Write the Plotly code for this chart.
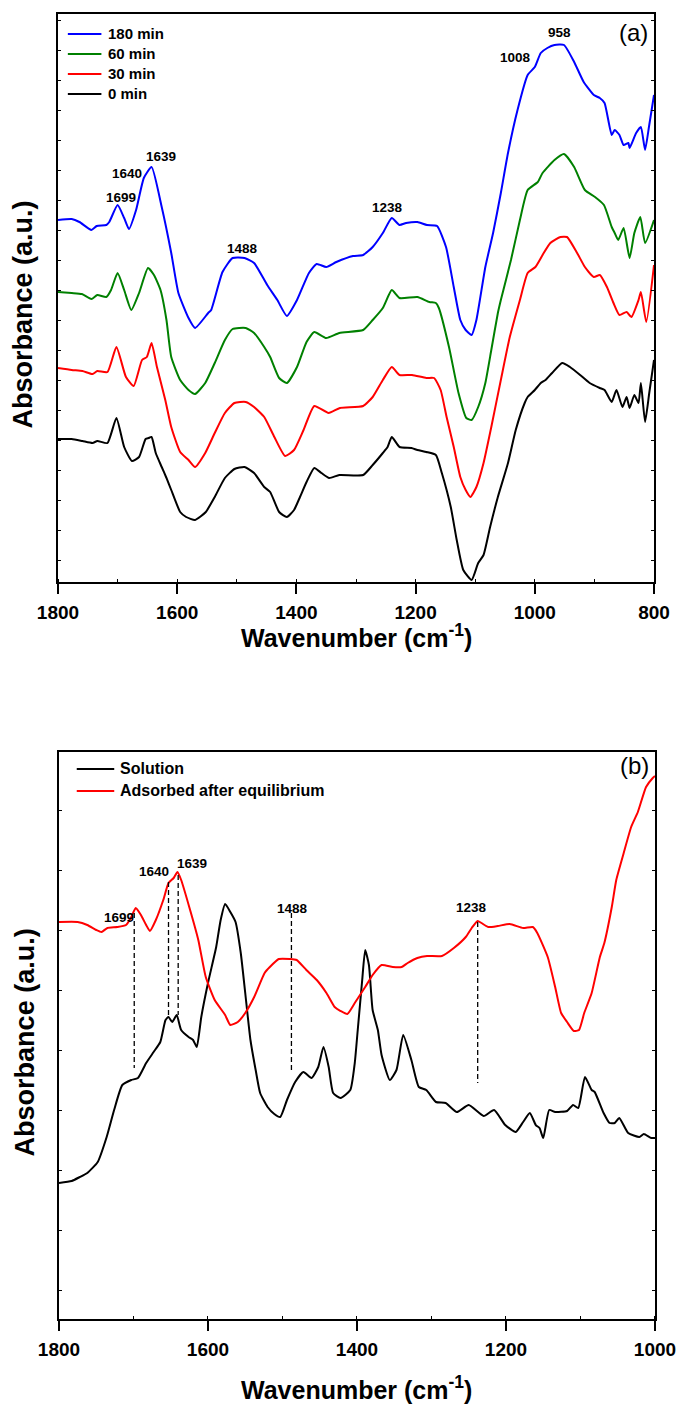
import plotly.graph_objects as go

# ---------------- panel (a): spectra vs. contact time ----------------
wn_180 = [1800, 1777, 1764, 1744, 1735, 1719, 1714, 1700, 1689, 1681, 1669, 1656, 1643, 1626, 1610, 1598,
          1581, 1570, 1548, 1543, 1524, 1507, 1487, 1471, 1449, 1432, 1416, 1399, 1379, 1366, 1350, 1333,
          1305, 1288, 1272, 1255, 1240, 1227, 1216, 1197, 1181, 1164, 1149, 1136, 1125, 1116, 1106, 1098,
          1083, 1070, 1057, 1045, 1029, 1012, 1000, 990, 979, 967, 951, 934, 918, 901, 891, 883, 871, 866,
          858, 851, 843, 841, 830, 822, 815, 808, 800]
abs_180 = [3.62, 3.63, 3.60, 3.52, 3.56, 3.57, 3.60, 3.77, 3.64, 3.53, 3.72, 4.04, 4.15, 3.75, 3.29, 2.89,
           2.64, 2.54, 2.69, 2.72, 3.10, 3.24, 3.24, 3.19, 2.97, 2.82, 2.66, 2.82, 3.09, 3.18, 3.15, 3.20,
           3.26, 3.27, 3.35, 3.49, 3.64, 3.57, 3.59, 3.60, 3.57, 3.56, 3.35, 2.95, 2.62, 2.52, 2.47, 2.62,
           3.15, 3.49, 3.89, 4.29, 4.72, 5.07, 5.15, 5.29, 5.34, 5.37, 5.37, 5.20, 5.00, 4.87, 4.84, 4.79,
           4.47, 4.52, 4.47, 4.37, 4.39, 4.34, 4.49, 4.55, 4.32, 4.57, 4.87]

wn_60 = [1800, 1777, 1760, 1744, 1734, 1719, 1711, 1700, 1689, 1677, 1664, 1649, 1639, 1628, 1618, 1610,
         1595, 1581, 1570, 1553, 1537, 1520, 1507, 1485, 1471, 1454, 1444, 1429, 1416, 1399, 1383, 1370,
         1350, 1328, 1288, 1272, 1255, 1240, 1227, 1197, 1177, 1166, 1161, 1144, 1128, 1115, 1106, 1095,
         1083, 1073, 1062, 1057, 1040, 1025, 1012, 995, 987, 967, 951, 934, 916, 899, 884, 871, 866, 860,
         851, 841, 833, 823, 815, 800]
abs_60 = [2.90, 2.89, 2.88, 2.83, 2.87, 2.85, 2.92, 3.09, 2.92, 2.72, 2.89, 3.14, 3.07, 2.92, 2.62, 2.25,
          2.02, 1.92, 1.88, 1.99, 2.19, 2.42, 2.53, 2.54, 2.49, 2.35, 2.25, 2.04, 1.99, 2.15, 2.40, 2.50,
          2.44, 2.49, 2.52, 2.62, 2.74, 2.92, 2.84, 2.85, 2.80, 2.79, 2.74, 2.35, 1.89, 1.64, 1.62, 1.75,
          1.99, 2.32, 2.69, 2.82, 3.22, 3.62, 3.92, 4.00, 4.09, 4.22, 4.28, 4.15, 3.92, 3.85, 3.77, 3.55,
          3.49, 3.42, 3.54, 3.24, 3.49, 3.65, 3.39, 3.62]

wn_30 = [1800, 1777, 1759, 1742, 1734, 1717, 1702, 1686, 1673, 1659, 1651, 1643, 1634, 1620, 1610, 1595,
         1581, 1570, 1553, 1537, 1520, 1504, 1485, 1471, 1454, 1437, 1419, 1404, 1388, 1370, 1346, 1327,
         1288, 1272, 1255, 1240, 1227, 1206, 1182, 1169, 1158, 1148, 1136, 1125, 1116, 1108, 1098, 1086,
         1073, 1057, 1042, 1025, 1012, 999, 987, 974, 957, 946, 929, 916, 901, 891, 879, 868, 858, 846,
         838, 826, 822, 813, 800]
abs_30 = [2.14, 2.12, 2.11, 2.08, 2.11, 2.10, 2.35, 2.05, 1.96, 2.22, 2.25, 2.39, 2.15, 1.82, 1.55, 1.30,
          1.22, 1.15, 1.29, 1.49, 1.69, 1.79, 1.80, 1.75, 1.65, 1.45, 1.26, 1.32, 1.52, 1.76, 1.69, 1.74,
          1.76, 1.85, 2.02, 2.15, 2.07, 2.07, 2.04, 2.04, 1.92, 1.65, 1.35, 1.05, 0.92, 0.85, 0.95, 1.19,
          1.55, 2.02, 2.45, 2.82, 3.09, 3.15, 3.27, 3.39, 3.45, 3.45, 3.29, 3.15, 3.05, 3.07, 2.95, 2.79,
          2.67, 2.70, 2.65, 2.82, 2.90, 2.60, 3.17]

wn_0 = [1800, 1777, 1759, 1742, 1734, 1717, 1702, 1689, 1676, 1664, 1653, 1648, 1643, 1636, 1626, 1618,
        1610, 1595, 1585, 1570, 1552, 1537, 1520, 1504, 1487, 1471, 1454, 1444, 1429, 1416, 1404, 1394,
        1383, 1370, 1358, 1345, 1328, 1288, 1272, 1255, 1247, 1240, 1227, 1207, 1197, 1182, 1166, 1156,
        1141, 1131, 1120, 1106, 1095, 1086, 1075, 1062, 1045, 1032, 1017, 1012, 1000, 990, 982, 971, 954,
        941, 924, 908, 891, 883, 871, 863, 853, 846, 841, 833, 826, 822, 815, 808, 800]
abs_0 = [1.43, 1.43, 1.41, 1.39, 1.41, 1.39, 1.64, 1.35, 1.21, 1.25, 1.43, 1.44, 1.45, 1.29, 1.15, 1.04,
         0.92, 0.70, 0.65, 0.62, 0.70, 0.85, 1.04, 1.13, 1.15, 1.09, 0.95, 0.90, 0.70, 0.65, 0.72, 0.85,
         1.00, 1.14, 1.09, 1.04, 1.07, 1.07, 1.17, 1.29, 1.35, 1.45, 1.35, 1.34, 1.32, 1.30, 1.27, 1.09,
         0.75, 0.42, 0.12, 0.02, 0.19, 0.27, 0.55, 0.85, 1.19, 1.52, 1.79, 1.85, 1.92, 1.99, 2.02, 2.09,
         2.19, 2.15, 2.07, 1.99, 1.94, 1.92, 1.80, 1.92, 1.75, 1.85, 1.74, 1.87, 1.79, 1.99, 1.60, 1.89,
         2.22]

# peak labels of panel (a)
peak_text_a = ["1699", "1640", "1639", "1488", "1238", "1008", "958"]
peak_x_a = [1694, 1684, 1628, 1490, 1247, 1033, 959]
peak_y_a = [3.85, 4.09, 4.26, 3.34, 3.75, 5.25, 5.50]

# ---------------- panel (b): solution vs. adsorbed ----------------
wn_sol = [1800, 1783, 1772, 1762, 1748, 1736, 1726, 1715, 1703, 1694, 1683, 1673, 1664, 1657, 1653, 1648,
          1642, 1636, 1626, 1620, 1615, 1609, 1600, 1589, 1583, 1577, 1570, 1563, 1556, 1550, 1543, 1536,
          1530, 1520, 1511, 1503, 1494, 1483, 1472, 1461, 1452, 1445, 1438, 1432, 1422, 1409, 1403, 1399,
          1393, 1389, 1384, 1379, 1372, 1367, 1356, 1347, 1338, 1327, 1317, 1307, 1294, 1281, 1266, 1250,
          1230, 1216, 1201, 1187, 1177, 1168, 1160, 1155, 1150, 1142, 1134, 1118, 1110, 1103, 1094, 1085,
          1081, 1069, 1061, 1054, 1048, 1036, 1021, 1015, 1005, 1000]
abs_sol = [1.36, 1.38, 1.42, 1.46, 1.57, 1.82, 2.09, 2.34, 2.39, 2.41, 2.56, 2.67, 2.77, 2.99, 3.02, 2.97,
           3.04, 2.89, 2.82, 2.79, 2.72, 3.02, 3.36, 3.72, 3.99, 4.15, 4.07, 3.97, 3.66, 3.26, 2.79, 2.49,
           2.26, 2.12, 2.05, 2.02, 2.19, 2.37, 2.47, 2.41, 2.52, 2.72, 2.52, 2.26, 2.21, 2.29, 2.56, 2.89,
           3.39, 3.69, 3.54, 3.09, 2.89, 2.64, 2.39, 2.49, 2.84, 2.59, 2.32, 2.29, 2.17, 2.16, 2.07, 2.14,
           2.03, 2.09, 1.94, 1.87, 1.97, 2.06, 1.94, 1.91, 1.81, 2.09, 2.07, 2.08, 2.14, 2.11, 2.42, 2.29,
           2.27, 2.06, 1.96, 1.96, 2.01, 1.86, 1.82, 1.85, 1.81, 1.81]

wn_ads = [1800, 1775, 1762, 1750, 1743, 1735, 1722, 1710, 1703, 1697, 1690, 1683, 1678, 1670, 1660, 1653,
          1646, 1641, 1636, 1624, 1613, 1603, 1591, 1577, 1570, 1560, 1550, 1538, 1524, 1517, 1505, 1490,
          1481, 1468, 1454, 1441, 1430, 1422, 1413, 1403, 1389, 1379, 1367, 1352, 1340, 1332, 1319, 1306,
          1286, 1270, 1254, 1246, 1238, 1233, 1224, 1211, 1195, 1177, 1164, 1158, 1144, 1134, 1126, 1118,
          1109, 1102, 1095, 1085, 1074, 1068, 1058, 1052, 1042, 1032, 1023, 1012, 1003, 1000]
abs_ads = [3.97, 3.97, 3.94, 3.89, 3.87, 3.91, 3.92, 3.94, 4.02, 4.11, 4.04, 3.94, 3.88, 3.99, 4.19, 4.36,
           4.41, 4.47, 4.39, 4.09, 3.79, 3.42, 3.19, 3.04, 2.94, 2.97, 3.06, 3.22, 3.46, 3.52, 3.60, 3.60,
           3.59, 3.49, 3.39, 3.26, 3.12, 3.08, 3.05, 3.16, 3.32, 3.44, 3.54, 3.52, 3.52, 3.56, 3.61, 3.63,
           3.63, 3.71, 3.82, 3.91, 3.98, 3.96, 3.92, 3.93, 3.95, 3.91, 3.92, 3.86, 3.62, 3.32, 3.06, 2.97,
           2.88, 2.89, 3.06, 3.26, 3.62, 3.76, 4.12, 4.39, 4.66, 4.92, 5.07, 5.32, 5.41, 5.43]

# dashed guide lines linking bands of the two spectra
guide_wn = [1699, 1653, 1640, 1488, 1238]
guide_top = [4.06, 4.37, 4.44, 4.06, 3.97]
guide_bottom = [2.51, 3.02, 3.04, 2.47, 2.36]

peak_text_b = ["1699", "1640", "1639", "1488", "1238"]
peak_x_b = [1719, 1673, 1621, 1487, 1246]
peak_y_b = [4.02, 4.48, 4.56, 4.11, 4.12]

ticks_a = [1800, 1600, 1400, 1200, 1000, 800]
ticks_b = [1800, 1600, 1400, 1200, 1000]

FONT = "Liberation Sans, Arial, sans-serif"

fig = go.Figure()

series_a = [
    ("0 min", wn_0, abs_0, "#000000"),
    ("30 min", wn_30, abs_30, "#ff0000"),
    ("60 min", wn_60, abs_60, "#008000"),
    ("180 min", wn_180, abs_180, "#0000ff"),
]
for name, wx, wy, col in series_a:
    fig.add_trace(go.Scatter(
        x=wx, y=wy, name=name, mode="lines", xaxis="x", yaxis="y", showlegend=False,
        line=dict(color=col, width=2, shape="spline", smoothing=0.5),
    ))

series_b = [
    ("Solution", wn_sol, abs_sol, "#000000"),
    ("Adsorbed after equilibrium", wn_ads, abs_ads, "#ff0000"),
]
for name, wx, wy, col in series_b:
    fig.add_trace(go.Scatter(
        x=wx, y=wy, name=name, mode="lines", xaxis="x2", yaxis="y2", showlegend=False,
        line=dict(color=col, width=2, shape="spline", smoothing=0.5),
    ))

gx, gy = [], []
for w, t, b in zip(guide_wn, guide_top, guide_bottom):
    gx += [w, w, None]
    gy += [t, b, None]
fig.add_trace(go.Scatter(
    x=gx, y=gy, mode="lines", xaxis="x2", yaxis="y2", showlegend=False,
    line=dict(color="#000000", width=1.3, dash="5px,3px"),
))

annotations = []
shapes = []
for t, x, y in zip(peak_text_a, peak_x_a, peak_y_a):
    annotations.append(dict(text=t, x=x, y=y, xref="x", yref="y", showarrow=False,
                            font=dict(family=FONT, size=13.5, color="#000", weight="bold")))
for t, x, y in zip(peak_text_b, peak_x_b, peak_y_b):
    annotations.append(dict(text=t, x=x, y=y, xref="x2", yref="y2", showarrow=False,
                            font=dict(family=FONT, size=13.5, color="#000", weight="bold")))


def add_key(entries, x_line0, x_line1, x_text, y_first, y_step, size):
    """Legend key: a short coloured line followed by the series name."""
    for i, (name, col) in enumerate(entries):
        yy = y_first - i * y_step
        shapes.append(dict(type="line", xref="paper", yref="paper", x0=x_line0, x1=x_line1,
                           y0=yy, y1=yy, line=dict(color=col, width=2)))
        annotations.append(dict(text=name, x=x_text, y=yy, xref="paper", yref="paper",
                                xanchor="left", yanchor="middle", showarrow=False,
                                font=dict(family=FONT, size=size, color="#000", weight="bold")))


add_key([(n, c) for n, _, _, c in reversed(series_a)], 0.0165, 0.0727, 0.0810, 0.9847, 0.01533, 15)
add_key([(n, c) for n, _, _, c in series_b], 0.0314, 0.0942, 0.1008, 0.4215, 0.01686, 16)

annotations += [
    dict(text="(a)", x=0.9917, y=0.9862, xref="paper", yref="paper", xanchor="right", yanchor="middle",
         showarrow=False, font=dict(family=FONT, size=24, color="#000")),
    dict(text="(b)", x=0.9934, y=0.4238, xref="paper", yref="paper", xanchor="right", yanchor="middle",
         showarrow=False, font=dict(family=FONT, size=24, color="#000")),
    dict(text="Wavenumber (cm<sup>-1</sup>)", x=0.4992, y=0.5234, xref="paper", yref="paper",
         xanchor="center", yanchor="middle", showarrow=False,
         font=dict(family=FONT, size=25, color="#000", weight="bold")),
    dict(text="Wavenumber (cm<sup>-1</sup>)", x=0.5008, y=-0.0527, xref="paper", yref="paper",
         xanchor="center", yanchor="middle", showarrow=False,
         font=dict(family=FONT, size=25, color="#000", weight="bold")),
    dict(text="Absorbance (a.u.)", x=-0.0579, y=0.7701, xref="paper", yref="paper", textangle=-90,
         xanchor="center", yanchor="middle", showarrow=False,
         font=dict(family=FONT, size=27, color="#000", weight="bold")),
    dict(text="Absorbance (a.u.)", x=-0.0562, y=0.2123, xref="paper", yref="paper", textangle=-90,
         xanchor="center", yanchor="middle", showarrow=False,
         font=dict(family=FONT, size=27, color="#000", weight="bold")),
]


def x_axis(domain, anchor, rng, tickvals):
    return dict(
        domain=domain, anchor=anchor, range=rng, tickvals=tickvals,
        ticks="outside", ticklen=10, tickwidth=2, tickcolor="#000",
        showline=True, linewidth=2, linecolor="#000", mirror=True,
        showgrid=False, zeroline=False, ticklabelstandoff=2,
        tickfont=dict(family=FONT, size=19, color="#000", weight="bold"),
        minor=dict(dtick=100, ticks="inside", ticklen=3, tickwidth=1.2, tickcolor="#000", showgrid=False),
    )


def y_axis(domain, anchor, rng, tick0, dtick):
    return dict(
        domain=domain, anchor=anchor, range=rng, tick0=tick0, dtick=dtick,
        ticks="inside", ticklen=3, tickwidth=1.2, tickcolor="#000",
        showticklabels=False, showline=True, linewidth=2, linecolor="#000", mirror="ticks",
        showgrid=False, zeroline=False,
    )


fig.update_layout(
    width=688, height=1407,
    margin=dict(l=58, r=25, t=14, b=88),
    paper_bgcolor="white", plot_bgcolor="white",
    xaxis=x_axis([0, 0.99835], "y", [1800, 800], ticks_a),
    yaxis=y_axis([0.56475, 1], "x", [0, 5.68], 0.22, 0.3),
    xaxis2=x_axis([0.00165, 1], "y2", [1800, 1000], ticks_b),
    yaxis2=y_axis([0, 0.43448], "x2", [0, 5.67], 0.29, 0.6),
    annotations=annotations,
    shapes=shapes,
    showlegend=False,
)

fig.write_html("out.html")
